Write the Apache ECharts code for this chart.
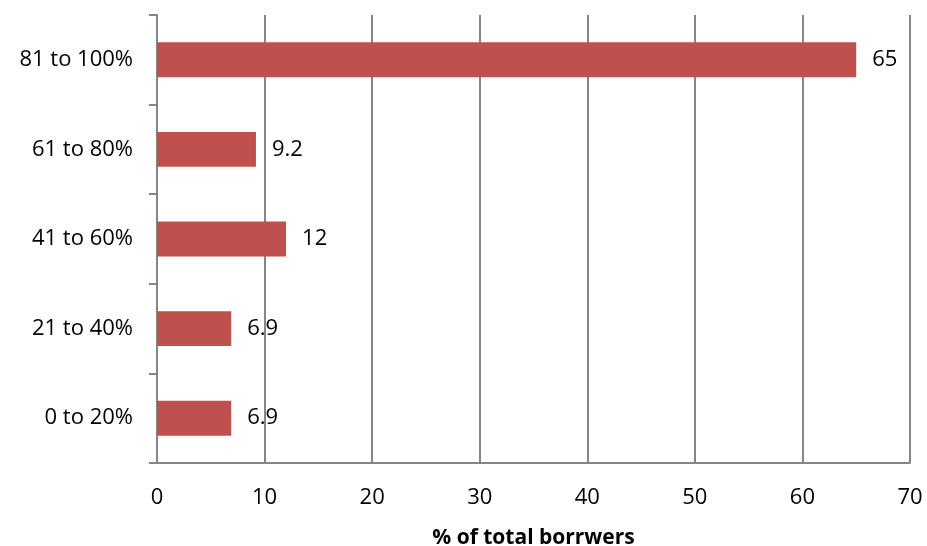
<!DOCTYPE html>
<html>
<head>
<meta charset="utf-8">
<script src="https://cdn.jsdelivr.net/npm/echarts@6/dist/echarts.min.js"></script>
<style>
  html, body { margin: 0; padding: 0; background: #fff; }
  #main { width: 927px; height: 546px; }
</style>
</head>
<body>
<div id="main"></div>
<script>
// ratio bands, bottom to top
const categories = ["0 to 20%", "21 to 40%", "41 to 60%", "61 to 80%", "81 to 100%"];
const values = [6.9, 6.9, 12, 9.2, 65];
const xTicks = [0, 10, 20, 30, 40, 50, 60, 70];

const chart = echarts.init(document.getElementById("main"));
const font = "'Open Sans', 'Liberation Sans', sans-serif";

const option = {
  animation: false,
  grid: { left: 157, right: 17, top: 15, bottom: 83, containLabel: false, outerBoundsMode: "none" },
  xAxis: {
    type: "value",
    min: xTicks[0],
    max: xTicks[xTicks.length - 1],
    interval: 10,
    name: "% of total borrwers",
    nameLocation: "middle",
    nameGap: 65,
    nameTextStyle: { fontFamily: font, fontSize: 21, fontWeight: "bold", color: "#000" },
    axisLine: { show: true, lineStyle: { color: "#868686", width: 2 } },
    axisTick: { show: false },
    axisLabel: { fontFamily: font, fontSize: 22, color: "#000", margin: 24 },
    splitLine: { show: true, lineStyle: { color: "#868686", width: 2 } }
  },
  yAxis: {
    type: "category",
    data: categories,
    axisLine: { show: true, lineStyle: { color: "#868686", width: 2 } },
    axisTick: { show: true, length: 8, lineStyle: { color: "#868686", width: 2 } },
    axisLabel: { fontFamily: font, fontSize: 22, color: "#000", margin: 24 },
    splitLine: { show: false }
  },
  series: [{
    type: "bar",
    data: values,
    barCategoryGap: "61%",
    itemStyle: { color: "#C0504D" },
    label: {
      show: true,
      position: "right",
      distance: 16,
      fontFamily: font,
      fontSize: 22,
      color: "#000"
    }
  }]
};

chart.setOption(option);
</script>
</body>
</html>
